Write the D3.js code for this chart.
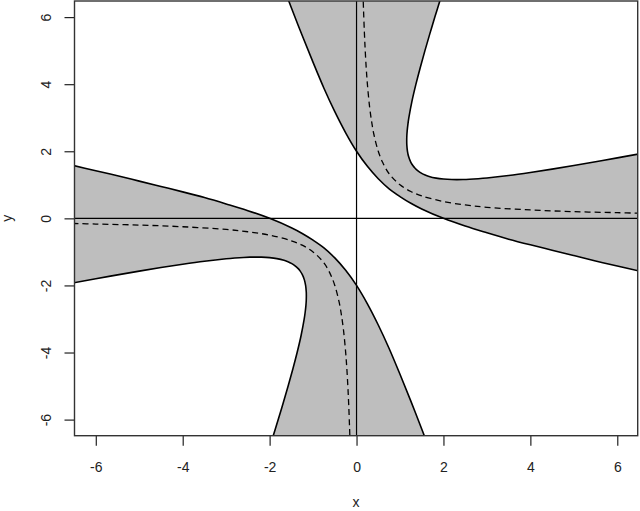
<!DOCTYPE html>
<html>
<head>
<meta charset="utf-8">
<script src="https://cdn.jsdelivr.net/npm/d3@7"></script>
<style>
    body { margin: 0; background: #fff; }
    svg { display: block; font-family: "Liberation Sans", Arial, sans-serif; }
</style>
</head>
<body>
<div class="chart"></div>
<script>
const xTicks = [-6, -4, -2, 0, 2, 4, 6]
const yTicks = [-6, -4, -2, 0, 2, 4, 6]

// outer boundary curves of the band
const outerUpper = [[-1.7, 6.96], [-1.5, 6.28], [-1.25, 5.45], [-1.0, 4.65], [-0.75, 3.88], [-0.5, 3.18], [-0.25, 2.55],
    [0, 2.0], [0.25, 1.55], [0.5, 1.18], [0.75, 0.88], [1.0, 0.65], [1.25, 0.45], [1.5, 0.28], [2.0, 0.0], [2.5, -0.23],
    [3.0, -0.43], [3.5, -0.62], [4.0, -0.79], [4.5, -0.95], [5.0, -1.11], [5.5, -1.27], [6.0, -1.42], [6.6, -1.60]]
const outerLower = [[-6.6, 1.60], [-6.0, 1.42], [-5.5, 1.27], [-5.0, 1.11], [-4.5, 0.95], [-4.0, 0.79], [-3.5, 0.62],
    [-3.0, 0.43], [-2.5, 0.23], [-2.0, 0.0], [-1.5, -0.28], [-1.25, -0.45], [-1.0, -0.65], [-0.75, -0.88], [-0.5, -1.18],
    [-0.25, -1.55], [0, -2.0], [0.25, -2.55], [0.5, -3.18], [0.75, -3.88], [1.0, -4.65], [1.25, -5.45], [1.5, -6.28], [1.7, -6.96]]

// inner boundary curves
const innerUpper = [[1.945, 6.6], [1.802, 6.0], [1.686, 5.5], [1.574, 5.0], [1.467, 4.5], [1.367, 4.0], [1.277, 3.5],
    [1.204, 3.0], [1.182, 2.8], [1.165, 2.6], [1.157, 2.45], [1.155, 2.309], [1.157, 2.19], [1.172, 2.0], [1.2, 1.834],
    [1.25, 1.67], [1.3, 1.566], [1.342, 1.5], [1.414, 1.414], [1.5, 1.342], [1.566, 1.3], [1.67, 1.25], [1.834, 1.2],
    [2.0, 1.172], [2.19, 1.157], [2.309, 1.155], [2.45, 1.157], [2.6, 1.165], [2.8, 1.182], [3.0, 1.204], [3.5, 1.277],
    [4.0, 1.367], [4.5, 1.467], [5.0, 1.574], [5.5, 1.686], [6.0, 1.802], [6.6, 1.945]]
const innerLower = [[-1.945, -6.6], [-1.802, -6.0], [-1.686, -5.5], [-1.574, -5.0], [-1.467, -4.5], [-1.367, -4.0], [-1.277, -3.5],
    [-1.204, -3.0], [-1.182, -2.8], [-1.165, -2.6], [-1.157, -2.45], [-1.155, -2.309], [-1.157, -2.19], [-1.172, -2.0], [-1.2, -1.834],
    [-1.25, -1.67], [-1.3, -1.566], [-1.342, -1.5], [-1.414, -1.414], [-1.5, -1.342], [-1.566, -1.3], [-1.67, -1.25], [-1.834, -1.2],
    [-2.0, -1.172], [-2.19, -1.157], [-2.309, -1.155], [-2.45, -1.157], [-2.6, -1.165], [-2.8, -1.182], [-3.0, -1.204], [-3.5, -1.277],
    [-4.0, -1.367], [-4.5, -1.467], [-5.0, -1.574], [-5.5, -1.686], [-6.0, -1.802], [-6.6, -1.945]]

// dashed centre curve
const centerPos = [[0.148, 6.76], [0.16, 6.25], [0.18, 5.56], [0.2, 5.0], [0.225, 4.44], [0.25, 4.0], [0.3, 3.33], [0.35, 2.86],
    [0.4, 2.5], [0.5, 2.0], [0.6, 1.67], [0.75, 1.33], [1.0, 1.0], [1.25, 0.8], [1.5, 0.67], [2.0, 0.5], [2.5, 0.4], [3.0, 0.33],
    [4.0, 0.25], [5.0, 0.2], [6.0, 0.17], [6.6, 0.15]]
const centerNeg = [[-0.148, -6.76], [-0.16, -6.25], [-0.18, -5.56], [-0.2, -5.0], [-0.225, -4.44], [-0.25, -4.0], [-0.3, -3.33], [-0.35, -2.86],
    [-0.4, -2.5], [-0.5, -2.0], [-0.6, -1.67], [-0.75, -1.33], [-1.0, -1.0], [-1.25, -0.8], [-1.5, -0.67], [-2.0, -0.5], [-2.5, -0.4], [-3.0, -0.33],
    [-4.0, -0.25], [-5.0, -0.2], [-6.0, -0.17], [-6.6, -0.15]]

let width = 640, height = 511
let plotLeft = 74.5, plotRight = 637.7, plotTop = 1, plotBottom = 435.7

let svg = d3.select(".chart")
    .append("svg")
    .attr("width", width)
    .attr("height", height)

let xScale = d3.scaleLinear().domain([-6.49, 6.47]).range([plotLeft, plotRight])
let yScale = d3.scaleLinear().domain([-6.48, 6.48]).range([plotBottom, plotTop])

svg.append("clipPath")
    .attr("id", "plot-clip")
    .append("rect")
    .attr("x", plotLeft)
    .attr("y", plotTop)
    .attr("width", plotRight - plotLeft)
    .attr("height", plotBottom - plotTop)

let line = d3.line()
    .x((d) => xScale(d[0]))
    .y((d) => yScale(d[1]))
    .curve(d3.curveCatmullRom.alpha(0.5))

let plot = svg.append("g").attr("clip-path", "url(#plot-clip)")

//灰色带
plot.append("path")
    .attr("d", line(outerUpper) + "L" + line(innerUpper.slice().reverse()).slice(1) + "Z")
    .attr("fill", "#bebebe")
plot.append("path")
    .attr("d", line(outerLower) + "L" + line(innerLower).slice(1) + "Z")
    .attr("fill", "#bebebe")

//坐标原点线
plot.append("path")
    .attr("stroke", "#000")
    .attr("stroke-width", 1.2)
    .attr("d", `M${plotLeft},${yScale(0)} H${plotRight} M${xScale(0)},${plotTop} V${plotBottom}`)

plot.selectAll(".bound")
    .data([outerUpper, outerLower, innerUpper, innerLower])
    .enter()
    .append("path")
    .attr("class", "bound")
    .attr("fill", "none")
    .attr("stroke", "#000")
    .attr("stroke-width", 1.6)
    .attr("d", (d) => line(d))

plot.selectAll(".center")
    .data([centerPos, centerNeg])
    .enter()
    .append("path")
    .attr("class", "center")
    .attr("fill", "none")
    .attr("stroke", "#000")
    .attr("stroke-width", 1.3)
    .attr("stroke-dasharray", "6,4")
    .attr("d", (d) => line(d))

//坐标轴
let xAxis = svg.append("g")
    .attr("transform", `translate(0,${plotBottom})`)
    .call(d3.axisBottom(xScale).tickValues(xTicks).tickFormat((d) => String(d)).tickSize(10).tickSizeOuter(0))
xAxis.select(".domain").remove()
xAxis.selectAll("line").attr("stroke", "#222").attr("stroke-width", 1.2)
xAxis.selectAll("text")
    .attr("y", 36)
    .attr("dy", null)
    .attr("font-size", 14)
    .attr("font-family", "Liberation Sans, Arial, sans-serif")
    .attr("fill", "#222")

let yAxis = svg.append("g")
    .attr("transform", `translate(${plotLeft},0)`)
    .call(d3.axisLeft(yScale).tickValues(yTicks).tickFormat((d) => String(d)).tickSize(10).tickSizeOuter(0))
yAxis.select(".domain").remove()
yAxis.selectAll("line").attr("stroke", "#222").attr("stroke-width", 1.2)
yAxis.selectAll("text")
    .attr("transform", "rotate(-90)")
    .attr("x", 0)
    .attr("y", -24)
    .attr("dy", null)
    .attr("text-anchor", "middle")
    .attr("font-size", 14)
    .attr("font-family", "Liberation Sans, Arial, sans-serif")
    .attr("fill", "#222")

svg.append("rect")
    .attr("x", plotLeft)
    .attr("y", plotTop)
    .attr("width", plotRight - plotLeft)
    .attr("height", plotBottom - plotTop)
    .attr("fill", "none")
    .attr("stroke", "#333")
    .attr("stroke-width", 1.4)

svg.append("text")
    .attr("x", (plotLeft + plotRight) / 2)
    .attr("y", 507)
    .attr("text-anchor", "middle")
    .attr("font-size", 14)
    .attr("fill", "#222")
    .text("x")

svg.append("text")
    .attr("transform", `translate(12,${(plotTop + plotBottom) / 2}) rotate(-90)`)
    .attr("text-anchor", "middle")
    .attr("font-size", 14)
    .attr("fill", "#222")
    .text("y")
</script>
</body>
</html>
